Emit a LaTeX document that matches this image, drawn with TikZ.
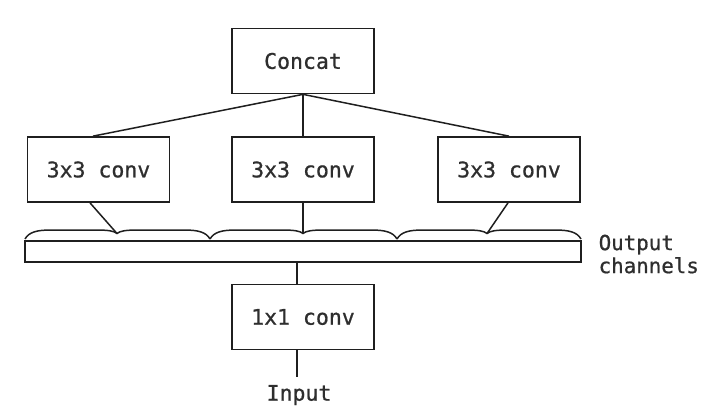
\documentclass[tikz,border=0pt]{standalone}
\usepackage{fontspec}
\setmonofont[FakeBold=0.8]{DejaVu Sans Mono}

% One curly brace over a group of channels: ends curl down at #1 and #3,
% with a small downward cusp at #2.
\newcommand\chanbrace[3]{%
  \draw[wire] (#1,239) .. controls (#1+4,232) and (#1+12,230) .. (#1+26,230)
    -- (#2-22,230) .. controls (#2-8,230) and (#2-3,231) .. (#2,233.5)
    .. controls (#2+3,231) and (#2+8,230) .. (#2+22,230)
    -- (#3-26,230) .. controls (#3-12,230) and (#3-4,232) .. (#3,239);}

\begin{document}
\begin{tikzpicture}[x=1pt,y=-1pt,
  every node/.style={font=\ttfamily\fontsize{21.5}{23}\selectfont, text=black!82},
  block/.style={draw=black!88, line width=1.7pt, minimum width=142pt,
    minimum height=65pt, inner sep=0pt},
  wire/.style={line width=1.5pt, draw=black!88}]
\useasboundingbox (0,0) rectangle (701,405);

% boxes
\node[block] (concat) at (303,61) {Concat};
\node[block] (convA) at (98.5,169.5) {3x3 conv};
\node[block] (convB) at (303,169.5) {3x3 conv};
\node[block] (convC) at (509,169.5) {3x3 conv};
\node[draw=black!88, line width=1.7pt, minimum width=556pt, minimum height=21pt,
  inner sep=0pt] (bar) at (303,251.5) {};
\node[block] (onebyone) at (303,317) {1x1 conv};

% labels
\node[inner sep=0pt, anchor=north west, align=left,
  font=\ttfamily\fontsize{20.8}{23}\selectfont] (outlbl) at (598.5,234.5)
  {Output\\channels};
\node[inner sep=0pt, outer sep=8pt, anchor=north] (input) at (299,377) {Input};

% brace tips and the input stem
\coordinate (tipA) at (117,233.5);
\coordinate (tipB) at (303,233.5);
\coordinate (tipC) at (487,233.5);
\coordinate (stem) at (297,0);

% channel braces
\chanbrace{25}{117}{210}
\chanbrace{210}{303}{397}
\chanbrace{397}{487}{581}

% connectors
\draw[wire] (concat.south) -- ([xshift=-5.5pt]convA.north);
\draw[wire] (concat.south) -- (convB.north);
\draw[wire] (concat.south) -- (convC.north);
\draw[wire] ([xshift=-8.5pt]convA.south) -- (tipA);
\draw[wire] (convB.south) -- (tipB);
\draw[wire] ([xshift=-1pt]convC.south) -- (tipC);
\draw[wire] (onebyone.north -| stem) -- (bar.south -| stem);
\draw[wire] (onebyone.south -| stem) -- (input.north -| stem);
\end{tikzpicture}
\end{document}
